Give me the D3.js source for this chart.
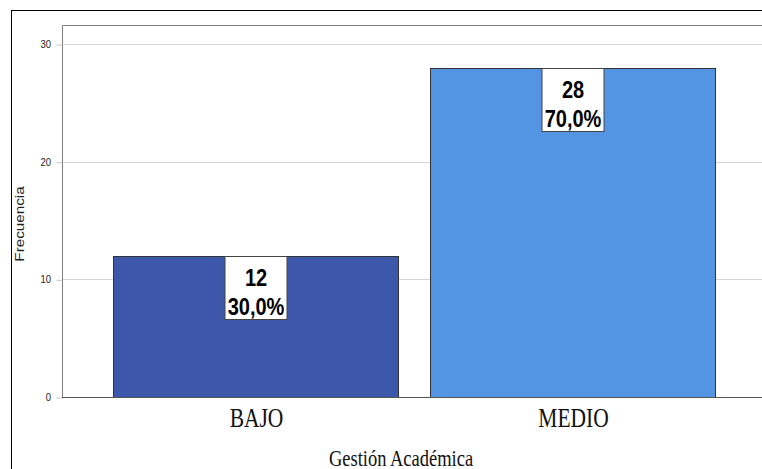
<!DOCTYPE html>
<html>
<head>
<meta charset="utf-8">
<script src="https://cdn.jsdelivr.net/npm/d3@7"></script>
<style>
  body { margin: 0; background: #fff; }
  svg { display: block; }
</style>
</head>
<body>
<div class="chart"></div>
<script>
const categories = ['BAJO', 'MEDIO'];
const counts = [12, 28];
const percents = ['30,0%', '70,0%'];
const yTicks = [0, 10, 20, 30];
const barColors = ['#3d58ab', '#5394e3'];

// the source picture is stretched vertically, so text looks tall and narrow
const STRETCH = 1.27;

function drawChart() {
  const W = 762, H = 469;
  const svg = d3.select('.chart').append('svg')
    .attr('width', W).attr('height', H);

  // helper: text anchored at (x, y) with the vertical stretch applied
  function tallText(parent, x, y, str, opts) {
    const g = parent.append('g')
      .attr('transform', `translate(${x},${y}) scale(1,${opts.stretch || STRETCH})`);
    g.append('text')
      .attr('text-anchor', opts.anchor || 'middle')
      .attr('font-family', opts.family)
      .attr('font-size', opts.size)
      .attr('font-weight', opts.weight || 'normal')
      .attr('fill', opts.fill || '#111')
      .text(str);
    return g;
  }

  // outer frame
  svg.append('rect')
    .attr('x', 11.5).attr('y', 10.5)
    .attr('width', W).attr('height', H)
    .attr('fill', 'none').attr('stroke', '#000').attr('stroke-width', 1);

  const x = d3.scaleBand().domain(categories).range([97, 731])
    .paddingInner(0.1).paddingOuter(0.05);
  const y = d3.scaleLinear().domain([0, 30]).range([397, 44]);

  const plotLeft = 62, plotTop = 25;

  // grid lines
  svg.append('g').selectAll('line')
    .data(yTicks.filter((d) => d > 0))
    .enter().append('line')
    .attr('x1', plotLeft).attr('x2', W)
    .attr('y1', (d) => Math.round(y(d)) + 0.5)
    .attr('y2', (d) => Math.round(y(d)) + 0.5)
    .attr('stroke', '#d4d4d4');

  // plot frame (left + top)
  svg.append('path')
    .attr('d', `M${plotLeft + 0.5},${Math.round(y(0)) + 0.5}V${plotTop + 0.5}H${W}`)
    .attr('fill', 'none').attr('stroke', '#7f7f7f').attr('stroke-width', 1);

  // y axis ticks + labels
  const yAxis = svg.append('g')
    .attr('transform', `translate(${plotLeft + 0.5},0.5)`)
    .call(d3.axisLeft(y).tickValues(yTicks).tickSize(6).tickFormat(''));
  yAxis.select('.domain').remove();
  yAxis.selectAll('line').attr('stroke', '#c4c4c4');
  yTicks.forEach((t) => {
    tallText(svg, 51, Math.round(y(t)) + 4, t, {
      anchor: 'end', family: 'Liberation Sans, Arial, sans-serif',
      size: 9.5, fill: '#222', stretch: 1.15
    });
  });

  // bars
  svg.append('g').selectAll('rect')
    .data(counts)
    .enter().append('rect')
    .attr('x', (d, i) => Math.round(x(categories[i])) + 0.5)
    .attr('y', (d) => Math.round(y(d)) + 0.5)
    .attr('width', Math.round(x.bandwidth()))
    .attr('height', (d) => Math.round(y(0)) - Math.round(y(d)))
    .attr('fill', (d, i) => barColors[i])
    .attr('stroke', '#333').attr('stroke-width', 1);

  // baseline
  svg.append('line')
    .attr('x1', plotLeft).attr('x2', W)
    .attr('y1', Math.round(y(0)) + 0.5).attr('y2', Math.round(y(0)) + 0.5)
    .attr('stroke', '#555');

  // value labels
  const labels = svg.append('g').selectAll('g')
    .data(counts)
    .enter().append('g')
    .attr('transform', (d, i) =>
      `translate(${x(categories[i]) + x.bandwidth() / 2},${Math.round(y(d))})`);
  labels.append('rect')
    .attr('x', -30.5).attr('y', 0.5)
    .attr('width', 62).attr('height', 63)
    .attr('fill', '#fff').attr('stroke', '#444');
  labels.each(function (d, i) {
    const lab = d3.select(this);
    const opts = { family: 'Liberation Sans, Arial, sans-serif', size: 20,
      weight: 'bold', fill: '#000', stretch: 1.2 };
    tallText(lab, 0.5, 30, d, opts);
    tallText(lab, 0.5, 59, percents[i], opts);
  });

  // category labels
  const serif = 'Liberation Serif, Times New Roman, serif';
  categories.forEach((c) => {
    tallText(svg, x(c) + x.bandwidth() / 2 + 1, 427, c, { family: serif, size: 21.5 });
  });

  // axis titles
  tallText(svg, 401, 466, 'Gestión Académica', { family: serif, size: 18.5 });

  const yt = svg.append('g').attr('transform', 'translate(24,224) scale(1,1.27)');
  yt.append('text')
    .attr('transform', 'rotate(-90)')
    .attr('text-anchor', 'middle')
    .attr('font-family', 'Liberation Sans, Arial, sans-serif')
    .attr('font-size', 12).attr('fill', '#222')
    .text('Frecuencia');
}

drawChart();
</script>
</body>
</html>
